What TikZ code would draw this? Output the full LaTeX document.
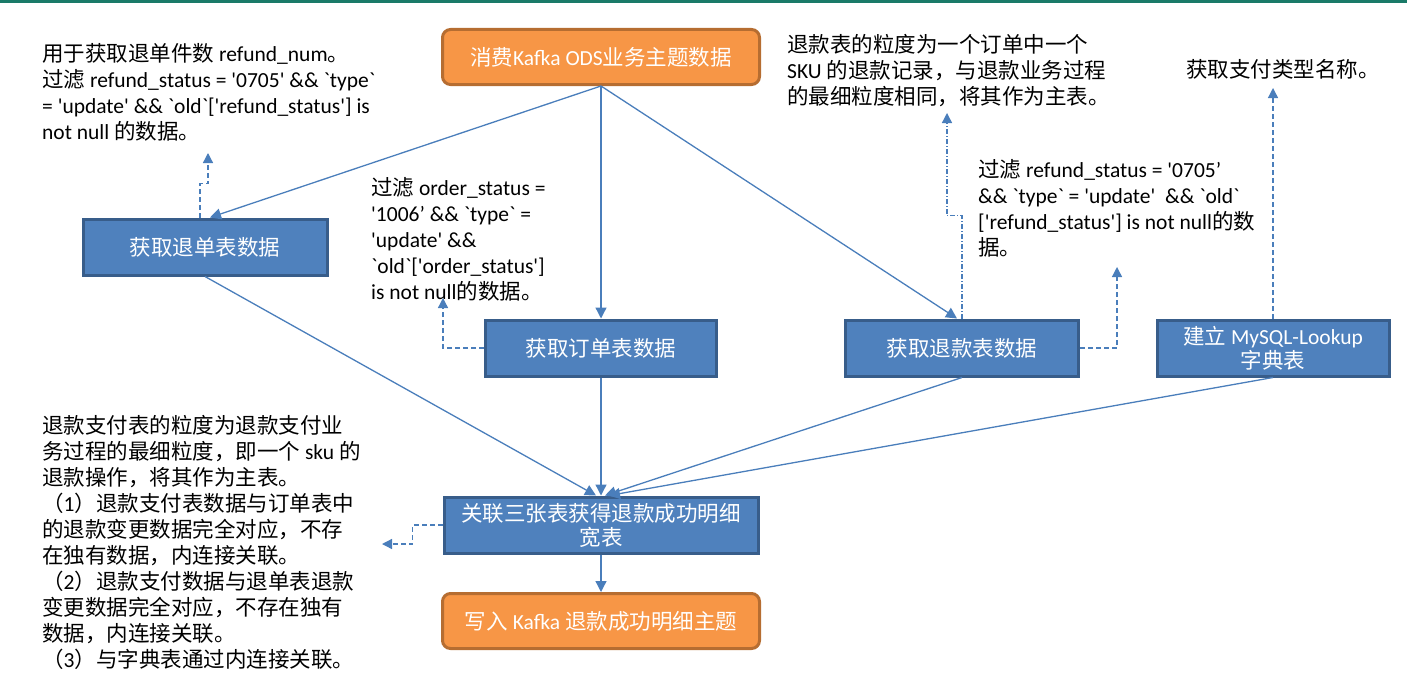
\documentclass[tikz,border=0pt]{standalone}
\usepackage{fontspec}
\setmainfont{Carlito}[Ligatures=TeXOff]
\newfontfamily\latf{Carlito}[Ligatures=TeXOff]
\newfontfamily\cjkf{Noto Sans CJK SC}
\usepackage{xcolor}
\usepackage{tikz}
\usetikzlibrary{arrows.meta,positioning,calc}

% CJK characters pick their own font
\makeatletter
\count@="3000
\loop
  \XeTeXcharclass\count@=1
  \advance\count@ by 1
\ifnum\count@<"A000 \repeat
\count@="FF00
\loop
  \XeTeXcharclass\count@=1
  \advance\count@ by 1
\ifnum\count@<"FFF0 \repeat
\makeatother
\XeTeXinterchartokenstate=1
\XeTeXinterchartoks 0 1 = {\cjkf}
\XeTeXinterchartoks 4095 1 = {\cjkf}
\XeTeXinterchartoks 1 0 = {\latf}
\XeTeXinterchartoks 1 4095 = {\latf}

\definecolor{boxblue}{HTML}{4F81BD}
\definecolor{boxblueline}{HTML}{385D8A}
\definecolor{boxorange}{HTML}{F79646}
\definecolor{boxorangeline}{HTML}{B66D31}
\definecolor{linkblue}{HTML}{4A7EBB}
\definecolor{topteal}{HTML}{1A7A68}

\begin{document}
\begin{tikzpicture}[x=1pt,y=-1pt,font=\fontsize{21.5}{26}\selectfont,
  bluebox/.style={draw=boxblueline,fill=boxblue,line width=3pt,text=white,
    minimum height=56pt,inner sep=2pt,align=center},
  orangebox/.style={draw=boxorangeline,fill=boxorange,line width=3pt,text=white,
    rounded corners=8pt,minimum width=317pt,minimum height=55pt},
  note/.style={anchor=north west,inner sep=0pt,align=left},
  flow/.style={draw=linkblue,line width=1.3pt,-{Triangle[width=11pt,length=11pt]}},
  aside/.style={draw=linkblue,line width=1.3pt,dash pattern=on 5pt off 3pt,
    -{Triangle[width=10pt,length=10pt]}}]
  \useasboundingbox (0,0) rectangle (1407,685);
  \draw[topteal,line width=3pt] (0,1.5) -- (1407,1.5);

  % boxes
  \node[orangebox] (src) at (601,57) {消费Kafka ODS业务主题数据};
  \node[bluebox,minimum width=244pt] (ret) at (205,247) {获取退单表数据};
  \node[bluebox,minimum width=231pt] (ord) at (601,348) {获取订单表数据};
  \node[bluebox,minimum width=233pt] (rfd) at (962,348) {获取退款表数据};
  \node[bluebox,minimum width=232pt,font=\fontsize{21.5}{24}\selectfont]
    (dic) at (1273,348) {建立 MySQL-Lookup\\字典表};
  \node[bluebox,minimum width=314pt,font=\fontsize{21.5}{24}\selectfont]
    (join) at (601,525) {关联三张表获得退款成功明细\\宽表};
  \node[orangebox] (sink) at (601,621) {写入 Kafka 退款成功明细主题};

  % notes
  \node[note] (n1) at (42,43) {用于获取退单件数 refund\_num。\\
    过滤 refund\_status = '0705' \&\& `type`\\
    = 'update' \&\& `old`['refund\_status'] is\\
    not null 的数据。};
  \node[note] (n2) at (371,177) {过滤 order\_status =\\
    '1006’ \&\& `type` =\\
    'update' \&\&\\
    `old`['order\_status']\\
    is not null的数据。};
  \node[note] (n3) at (787,34) {退款表的粒度为一个订单中一个\\
    SKU 的退款记录，与退款业务过程\\
    的最细粒度相同，将其作为主表。};
  \node[note] (n4) at (978,159) {过滤 refund\_status = '0705’\\
    \&\& `type` = 'update'~ \&\& `old`\\{}%
    ['refund\_status'] is not null的数\\
    据。};
  \node[note] (n5) at (1186,59) {获取支付类型名称。};
  \node[note] (n6) at (42,415) {退款支付表的粒度为退款支付业\\
    务过程的最细粒度，即一个 sku 的\\
    退款操作，将其作为主表。\\
    （1）退款支付表数据与订单表中\\
    的退款变更数据完全对应，不存\\
    在独有数据，内连接关联。\\
    （2）退款支付数据与退单表退款\\
    变更数据完全对应，不存在独有\\
    数据，内连接关联。\\
    （3）与字典表通过内连接关联。};

  % main flow
  \draw[flow] (src.south) -- ([xshift=5pt]ret.north);
  \draw[flow] (src.south) -- (ord.north);
  \draw[flow] (src.south) -- ([xshift=-5pt]rfd.north);
  \draw[flow] (ret.south) -- ([xshift=-5pt]join.north);
  \draw[flow] (ord.south) -- (join.north);
  \draw[flow] (rfd.south) -- ([xshift=4pt]join.north);
  \draw[flow] (dic.south) -- ([xshift=8pt]join.north);
  \draw[flow] (join.south) -- (sink.north);

  % side remarks
  \coordinate (p1) at (208,153);
  \coordinate (p2) at (443,298);
  \coordinate (p3) at (947,113);
  \coordinate (p4) at (1117,267);
  \coordinate (p5) at (1273,88);
  \coordinate (p6) at (382,544);
  \draw[aside] ([xshift=-5pt]ret.north) -- ++(0,-34) -| (p1);
  \draw[aside] (ord.west) -| (p2);
  \draw[aside,dash pattern=on 5pt off 2pt on 1pt off 2pt] (rfd.north) -- ++(0,-103) -| (p3);
  \draw[aside] (rfd.east) -| (p4);
  \draw[aside] (dic.north) -- (p5);
  \draw[aside] (join.west) -- ++(-30,0) |- (p6);
\end{tikzpicture}
\end{document}
